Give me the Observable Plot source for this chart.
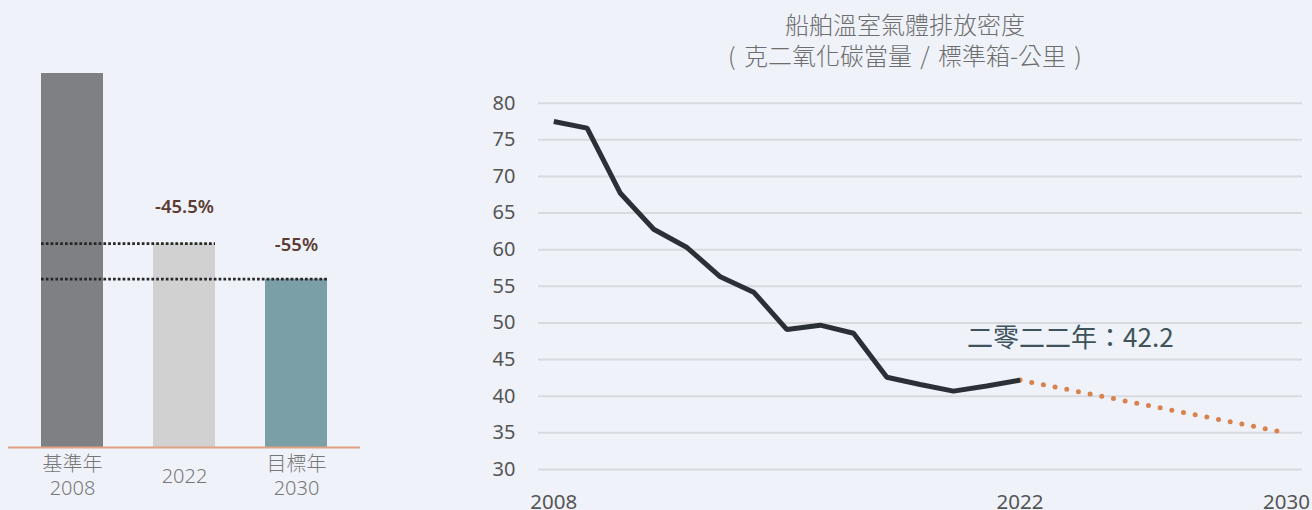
<!DOCTYPE html>
<html>
<head>
<meta charset="utf-8">
<script src="https://cdn.jsdelivr.net/npm/d3@7"></script>
<script src="https://cdn.jsdelivr.net/npm/@observablehq/plot@0.6"></script>
<style>
html, body { margin: 0; padding: 0; background: #eff2f9; }
#wrap { position: relative; width: 1312px; height: 510px; overflow: hidden; font-family: "Noto Sans", "Noto Sans CJK TC", sans-serif; }
#left { position: absolute; left: 0; top: 0; }
#right { position: absolute; left: 400px; top: 70px; }
#title { position: absolute; left: 655px; width: 500px; top: 9px; text-align: center; font-size: 24px; line-height: 30.5px; color: #6e6e6e; font-weight: 300; word-spacing: 3px; font-family: "Noto Sans CJK TC", "Noto Sans", sans-serif; }
svg { display: block; }
</style>
</head>
<body>
<div id="wrap">
  <div id="left"></div>
  <div id="title">船舶溫室氣體排放密度<br>( 克二氧化碳當量 / 標準箱-公里 )</div>
  <div id="right"></div>
</div>
<script>
// ---- Left chart data ----
const barCategories = ["2008", "2022", "2030"];
const barLabels = ["基準年\n2008", "2022", "目標年\n2030"];
const barValues = [100, 54.5, 45];
const barColors = ["#7f8084", "#d1d1d1", "#7a9fa7"];
const reductionLabels = ["-45.5%", "-55%"];

// ---- Right chart data ----
const histYears = [2008, 2009, 2010, 2011, 2012, 2013, 2014, 2015, 2016, 2017, 2018, 2019, 2020, 2021, 2022];
const histValues = [77.5, 76.6, 67.7, 62.8, 60.3, 56.3, 54.2, 49.1, 49.7, 48.6, 42.6, 41.6, 40.7, 41.4, 42.2];
const projYears = [2022, 2030];
const projValues = [42.2, 35.0];
const yTicks = [30, 35, 40, 45, 50, 55, 60, 65, 70, 75, 80];
const xTicks = [2008, 2022, 2030];
const annotationText = "二零二二年：42.2";

const FONT = '"Noto Sans", "Noto Sans CJK TC", sans-serif';

// ---- Left chart ----
const bars = barCategories.map((c, i) => ({cat: c, value: barValues[i], label: barLabels[i]}));
const refLines = [
  {from: barCategories[0], to: barCategories[1], value: barValues[1]},
  {from: barCategories[0], to: barCategories[2], value: barValues[2]}
];

const left = Plot.plot({
  width: 400,
  height: 510,
  marginLeft: 8,
  marginRight: 40,
  marginTop: 73,
  marginBottom: 63,
  style: {background: "transparent", fontFamily: FONT, overflow: "visible"},
  x: {type: "band", domain: barCategories, paddingInner: 50 / 112, paddingOuter: 0.2946, axis: null},
  y: {domain: [0, 100], axis: null},
  color: {domain: barCategories, range: barColors},
  marks: [
    Plot.barY(bars, {x: "cat", y: "value", fill: "cat"}),
    Plot.ruleY(refLines, {x1: "from", x2: "to", y: "value", stroke: "#262626", strokeWidth: 2.7, strokeDasharray: "2.7 2.1"}),
    Plot.ruleY([0], {stroke: "#e0a283", strokeWidth: 2}),
    Plot.text([bars[1]], {x: "cat", y: "value", text: () => reductionLabels[0], dy: -37, fontSize: 18.5, fontWeight: 600, fill: "#5b3b33"}),
    Plot.text([bars[2]], {x: "cat", y: "value", text: () => reductionLabels[1], dy: -34, fontSize: 18.5, fontWeight: 600, fill: "#5b3b33"}),
    Plot.text(bars, {x: "cat", text: "label", frameAnchor: "bottom", dy: 28, lineAnchor: "middle", lineHeight: 1.2, fontSize: 20, fontWeight: 300, fill: "#777777"})
  ]
});
document.getElementById("left").appendChild(left);

// ---- Right chart ----
const hist = histYears.map((y, i) => ({year: y, value: histValues[i]}));
const proj = projYears.map((y, i) => ({year: y, value: projValues[i]}));

const right = Plot.plot({
  width: 912,
  height: 440,
  marginLeft: 138,
  marginRight: 10,
  marginTop: 32.7,
  marginBottom: 41,
  style: {background: "transparent", fontFamily: FONT, overflow: "visible"},
  x: {domain: [2008, 2030], insetLeft: 15.3, insetRight: 16, label: null},
  y: {domain: [30, 80], label: null},
  marks: [
    Plot.gridY(yTicks, {stroke: "#d8dae0", strokeWidth: 2, strokeOpacity: 1}),
    Plot.axisY(yTicks, {tickSize: 0, tickPadding: 23, fontSize: 20, fill: "#555555", label: null}),
    Plot.axisX(xTicks, {tickSize: 0, tickPadding: 25, fontSize: 20.5, fill: "#555555", label: null, tickFormat: (d) => String(d)}),
    Plot.line(proj, {x: "year", y: "value", stroke: "#d9824e", strokeWidth: 5, strokeDasharray: "0 11.9", strokeLinecap: "round"}),
    Plot.line(hist, {x: "year", y: "value", stroke: "#2b2f36", strokeWidth: 5, strokeLinejoin: "miter", strokeLinecap: "butt"}),
    Plot.text([hist[hist.length - 1]], {x: "year", y: "value", text: () => annotationText, textAnchor: "start", dx: -53, dy: -41, fontSize: 26, fontWeight: 400, fill: "#40525c", fontFamily: '"Noto Sans CJK TC", "Noto Sans", sans-serif'})
  ]
});
document.getElementById("right").appendChild(right);
</script>
</body>
</html>
